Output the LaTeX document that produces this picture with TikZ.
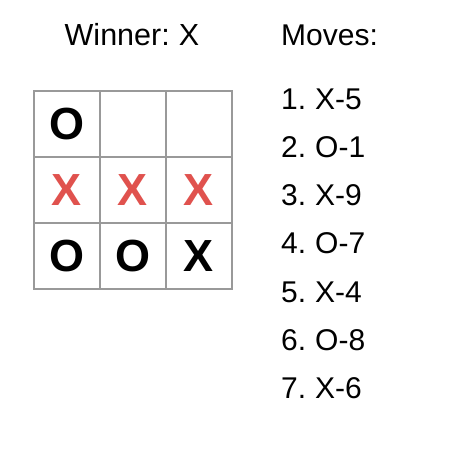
\documentclass[tikz,border=0pt]{standalone}
\usepackage{fontspec}
\setmainfont[WordSpace=0.75]{Liberation Sans}
\definecolor{gridgray}{HTML}{999999}
\definecolor{winred}{HTML}{E0524E}
\begin{document}
\begin{tikzpicture}[x=1pt,y=-1pt,
  cell/.style={draw=gridgray,line width=2pt,minimum size=66pt,inner sep=0pt,anchor=north west,
    font=\fontsize{45}{45}\selectfont\bfseries},
  win/.style={text=winred},
  label/.style={anchor=base west,inner sep=0pt,font=\fontsize{30}{30}\selectfont}]
\useasboundingbox (0,0) rectangle (460,454);
\node[anchor=base,inner sep=0pt,font=\fontsize{30.5}{30}\selectfont] (title) at (132,45.7) {Winner: X};
\node[label] (moves) at (281,45.7) {Moves:};
\foreach \r/\c/\t/\s in {0/0/O/, 0/1//, 0/2//, 1/0/X/win, 1/1/X/win, 1/2/X/win, 2/0/O/, 2/1/O/, 2/2/X/}{
  \node[cell,\s] (c\r\c) at ({33+66*\c},{90+66*\r}) {\t};
}
\foreach \i/\m in {1/X-5,2/O-1,3/X-9,4/O-7,5/X-4,6/O-8,7/X-6}{
  \node[label] (m\i) at (281,{110+48*(\i-1)}) {\i. \m};
}
\end{tikzpicture}
\end{document}
